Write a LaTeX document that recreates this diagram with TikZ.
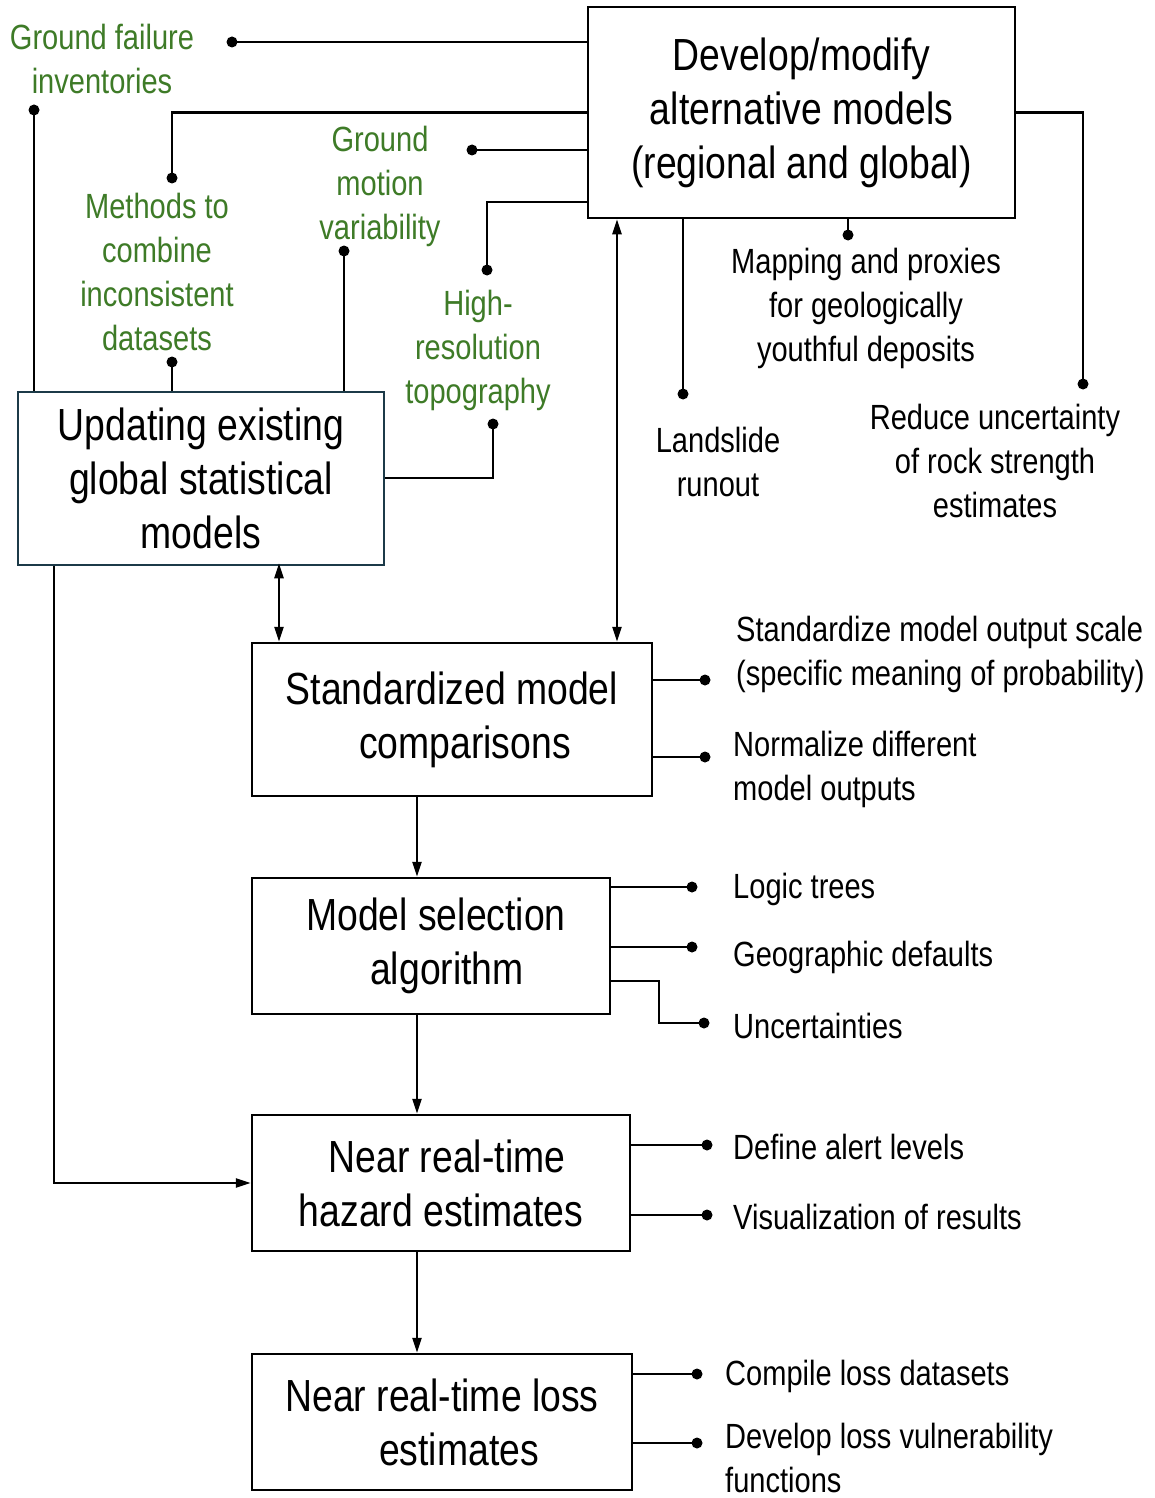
\documentclass[tikz,border=0pt]{standalone}
\usepackage{fontspec}
\setmainfont[FakeStretch=0.83]{Liberation Sans}
\usetikzlibrary{arrows.meta,calc}
\definecolor{grn}{HTML}{3E7B27}
\definecolor{boxteal}{HTML}{1C3A48}
\tikzset{
  box/.style={draw, line width=2.5pt, align=center, inner sep=0pt,
    font=\fontsize{45}{54}\selectfont},
  glabel/.style={align=center, text=grn, inner sep=0pt, font=\fontsize{35}{44}\selectfont},
  blabel/.style={align=center, inner sep=0pt, font=\fontsize{35}{44}\selectfont},
  rlabel/.style={align=left, anchor=west, inner sep=0pt, font=\fontsize{35}{44}\selectfont},
  dot/.style={circle, fill=black, inner sep=0pt, minimum size=11pt},
  conn/.style={line width=2.5pt},
  arr/.style={line width=2.5pt, -{Triangle[length=15pt,width=9pt]}},
  dblarr/.style={line width=2.5pt, {Triangle[length=15pt,width=9pt]}-{Triangle[length=15pt,width=9pt]}}
}
\begin{document}
\begin{tikzpicture}[x=1pt,y=-1pt]
\fill[white] (0,0) rectangle (1154,1498);
\path[use as bounding box] (0,0) rectangle (1154,1498);

% boxes
\node[box, minimum width=427pt, minimum height=211pt] (dev) at (801.5,112.5)
  {Develop/modify\\alternative models\\(regional and global)};
\node[box, draw=boxteal, minimum width=366pt, minimum height=173pt] (upd) at (201,478.5)
  {Updating existing\\global statistical\\models};
\node[box, minimum width=400pt, minimum height=153pt] (std) at (452,719.5)
  {Standardized model\\\hspace*{26pt}comparisons};
\node[box, minimum width=358pt, minimum height=136pt] (sel) at (431,946)
  {\hspace*{10pt}Model selection\\\hspace*{32pt}algorithm};
\node[box, minimum width=378pt, minimum height=136pt] (haz) at (441,1183)
  {\hspace*{12pt}Near real-time\\hazard estimates};
\node[box, minimum width=380pt, minimum height=136pt] (loss) at (442,1422)
  {Near real-time loss\\\hspace*{34pt}estimates};

% green labels
\node[glabel] (gf) at (102,59) {Ground failure\\inventories};
\node[glabel] (meth) at (157,272) {Methods to\\combine\\inconsistent\\datasets};
\node[glabel] (gm) at (380,186) {Ground\\motion\\variability};
\node[glabel] (hr) at (478,350) {High-\\resolution\\topography};

% black labels
\node[blabel] (map) at (866,308) {Mapping and proxies\\for geologically\\youthful deposits};
\node[blabel] (land) at (718,462) {Landslide\\runout};
\node[blabel] (red) at (995,461) {Reduce uncertainty\\of rock strength\\estimates};

\node[rlabel] (s1) at (736,654) {Standardize model output scale\\(specific meaning of probability)};
\node[rlabel] (s2) at (733,769) {Normalize different\\model outputs};
\node[rlabel] (lt) at (733,889) {Logic trees};
\node[rlabel] (geo) at (733,957) {Geographic defaults};
\node[rlabel] (unc) at (733,1026) {Uncertainties};
\node[rlabel] (al) at (733,1147) {Define alert levels};
\node[rlabel] (vis) at (733,1217) {Visualization of results};
\node[rlabel] (cl) at (725,1376) {Compile loss datasets};
\node[rlabel] (dl) at (725,1458) {Develop loss vulnerability\\functions};

% helper coordinates
\coordinate (yhr) at (0,202);
\coordinate (xdbl) at (279,0);
\coordinate (xdev) at (617,0);
\coordinate (xupd) at (54,0);
\coordinate (xel) at (659,0);
\coordinate (yel) at (0,981);
\coordinate (yupdr) at (0,478);
\coordinate (xmain) at (417,0);

% dots
\node[dot] (dgf) at (232,42) {};
\node[dot] (dmeth) at (172,178) {};
\node[dot] (dgm) at (472,150) {};
\node[dot] (dhr) at (487,270) {};
\node[dot] (dland) at (683,394) {};
\node[dot] (dmap) at (848,235) {};
\node[dot] (dred) at (1083,384) {};
\node[dot] (dinv) at (34,110) {};
\node[dot] (dmeth2) at (172,362) {};
\node[dot] (dgm2) at (344,251) {};
\node[dot] (dtopo) at (493,424) {};
\node[dot] (ds1) at (705,680) {};
\node[dot] (ds2) at (705,757) {};
\node[dot] (dlt) at (692,887) {};
\node[dot] (dgeo) at (692,947) {};
\node[dot] (dunc) at (704,1023) {};
\node[dot] (dal) at (707,1145) {};
\node[dot] (dvis) at (707,1215) {};
\node[dot] (dcl) at (697,1374) {};
\node[dot] (ddl) at (697,1443) {};

% connectors from Develop box
\draw[conn] (dev.west |- dgf) -- (dgf.center);
\draw[conn] (dev.west) -| (dmeth.center);
\draw[conn] (dev.west |- dgm) -- (dgm.center);
\draw[conn] (dev.west |- yhr) -| (dhr.center);
\draw[conn] (dev.south -| dland) -- (dland.center);
\draw[conn] (dev.south -| dmap) -- (dmap.center);
\draw[conn] (dev.east) -| (dred.center);

% connectors from Updating box
\draw[conn] (upd.north -| dinv) -- (dinv.center);
\draw[conn] (upd.north -| dmeth2) -- (dmeth2.center);
\draw[conn] (upd.north -| dgm2) -- (dgm2.center);
\draw[conn] (upd.east |- yupdr) -| (dtopo.center);

% right side connectors
\draw[conn] (std.east |- ds1) -- (ds1.center);
\draw[conn] (std.east |- ds2) -- (ds2.center);
\draw[conn] (sel.east |- dlt) -- (dlt.center);
\draw[conn] (sel.east |- dgeo) -- (dgeo.center);
\draw[conn] (sel.east |- yel) -| (xel |- dunc) -- (dunc.center);
\draw[conn] (haz.east |- dal) -- (dal.center);
\draw[conn] (haz.east |- dvis) -- (dvis.center);
\draw[conn] (loss.east |- dcl) -- (dcl.center);
\draw[conn] (loss.east |- ddl) -- (ddl.center);

% arrows
\draw[dblarr] ([yshift=3pt]upd.south -| xdbl) -- (std.north -| xdbl);
\draw[dblarr] (dev.south -| xdev) -- (std.north -| xdev);
\draw[arr] (std.south -| xmain) -- (sel.north -| xmain);
\draw[arr] (sel.south -| xmain) -- (haz.north -| xmain);
\draw[arr] (haz.south -| xmain) -- (loss.north -| xmain);
\draw[arr] (upd.south -| xupd) |- (haz.west);
\end{tikzpicture}
\end{document}
